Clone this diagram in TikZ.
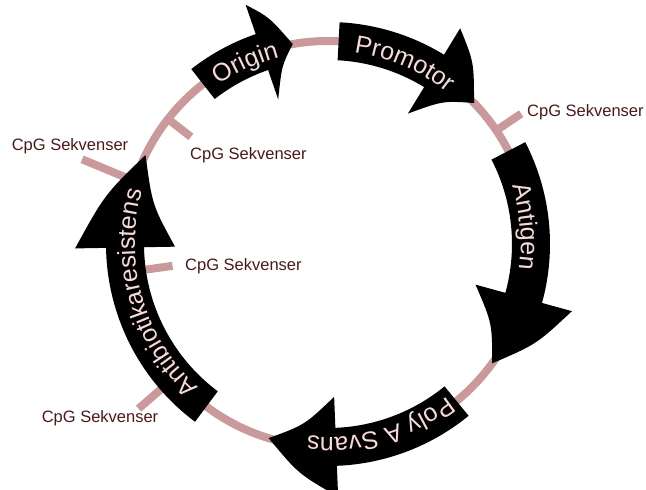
\documentclass[tikz,border=0pt]{standalone}
\usepackage{fontspec}
\setmainfont{Liberation Sans}
\usetikzlibrary{decorations.text}
\definecolor{ring}{HTML}{C9999B}
\definecolor{lbl}{HTML}{4A1818}
\definecolor{arrtxt}{HTML}{F8D8D8}
\newcommand\arrfont{\fontsize{25}{28}\selectfont\color{arrtxt}}
\def\R{203}\def\Ro{222}\def\Ri{184}\def\Rw{253}\def\Rn{153}\def\Rt{193}
\newcommand\plasarrow[3]{%
  \pgfmathsetmacro\midang{(#2+#3)/2}%
  \pgfmathsetmacro\rout{(\Rw+\R)/2*cos((#2-#3)/2)+7}%
  \pgfmathsetmacro\rin{(\Rn+\R)/2*cos((#2-#3)/2)+7}%
  \fill[black] (#1:\Ro) arc[start angle=#1, end angle=#2, radius=\Ro]
    -- (#2:\Rw) .. controls (\midang:\rout) .. (#3:\R)
    .. controls (\midang:\rin) .. (#2:\Rn) -- (#2:\Ri)
    arc[start angle=#2, end angle=#1, radius=\Ri] -- cycle;
}
\newcommand\arrlabel[2]{%
  \path[decorate, decoration={text along path, text={|\arrfont|#2}, text align=center}]
    (#1+42:\Rt) arc[start angle=#1+42, end angle=#1-42, radius=\Rt];
}
\tikzset{
  cpg/.style={inner sep=0pt, text=lbl, font=\fontsize{16.5}{18}\selectfont},
  tick/.style={draw=ring, line width=8pt},
}
\begin{document}
\begin{tikzpicture}[x=1pt,y=1pt]
\useasboundingbox (0,0) rectangle (646,490);
\begin{scope}[shift={(328,246)}]
  % ring
  \draw[ring, line width=8pt] (0,0) circle[radius=\R];
  % CpG ticks
  \coordinate (t1a) at (34:\R);   \coordinate (t1b) at (34:233);
  \coordinate (t2a) at (142:\R);  \coordinate (t2b) at (142:174);
  \coordinate (t3a) at (162:\R);  \coordinate (t3b) at (161:260);
  \coordinate (t4a) at (188:\Ri); \coordinate (t4b) at (188:157);
  \coordinate (t5a) at (221:\R);  \coordinate (t5b) at (221:251);
  \draw[tick] (t1a) -- (t1b);
  \draw[tick] (t2a) -- (t2b);
  \draw[tick] (t3a) -- (t3b);
  \draw[tick] (t4a) -- (t4b);
  \draw[tick] (t5a) -- (t5b);
  % arrows
  \plasarrow{128}{109}{100}
  \plasarrow{87}{58.5}{44}
  \plasarrow{27.3}{-15.4}{-36}
  \plasarrow{-50.7}{-87.7}{-107}
  \plasarrow{233.2}{181}{154}
  % arrow texts
  \arrlabel{114.5}{Origin}
  \arrlabel{67}{Promotor}
  \arrlabel{5}{Antigen}
  \arrlabel{-74}{Poly A Svans}
  \arrlabel{196}{Antibiotikaresistens}
\end{scope}
% labels
\node[cpg, anchor=west] (l1) at (527,378) {CpG Sekvenser};
\node[cpg, anchor=west] (l2) at (190,335) {CpG Sekvenser};
\node[cpg] (l3) at (70,344) {CpG Sekvenser};
\node[cpg, anchor=west] (l4) at (185,224) {CpG Sekvenser};
\node[cpg] (l5) at (100,72) {CpG Sekvenser};
\end{tikzpicture}
\end{document}
